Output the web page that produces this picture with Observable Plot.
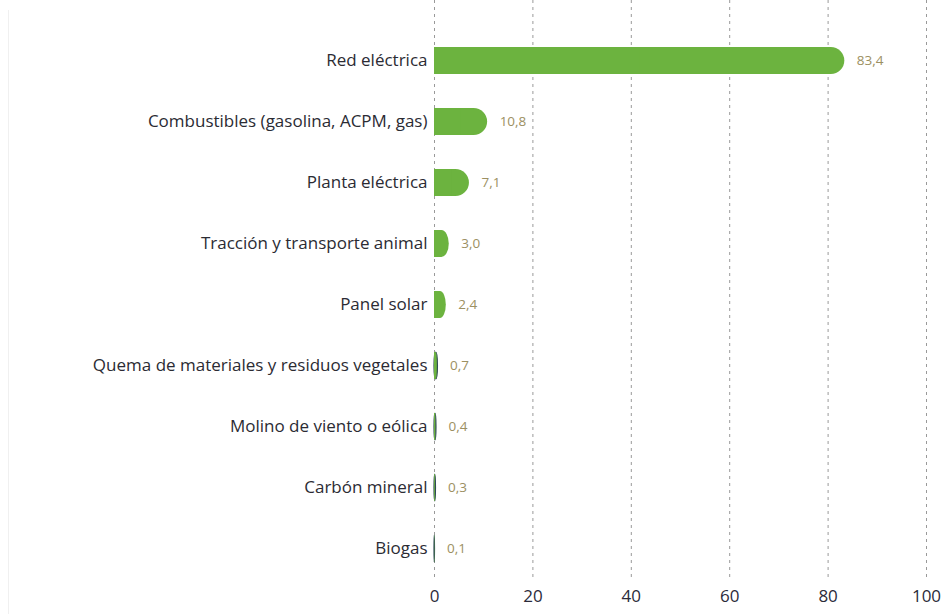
<!DOCTYPE html>
<html>
<head>
<meta charset="utf-8">
<script src="https://cdn.jsdelivr.net/npm/d3@7"></script>
<script src="https://cdn.jsdelivr.net/npm/@observablehq/plot@0.6"></script>
<style>
  html, body { margin: 0; padding: 0; background: #fff; }
  #chart { position: relative; width: 943px; height: 614px; }
  #chart::before { content: ""; position: absolute; left: 8px; top: 10px; bottom: 0; width: 1px; background: #f0f0f0; }
</style>
</head>
<body>
<div id="chart"></div>
<script>
const categories = [
  "Red eléctrica",
  "Combustibles (gasolina, ACPM, gas)",
  "Planta eléctrica",
  "Tracción y transporte animal",
  "Panel solar",
  "Quema de materiales y residuos vegetales",
  "Molino de viento o eólica",
  "Carbón mineral",
  "Biogas"
];
const values = [83.4, 10.8, 7.1, 3.0, 2.4, 0.7, 0.4, 0.3, 0.1];
const xTicks = [0, 20, 40, 60, 80, 100];

const data = categories.map((c, i) => ({ c, v: values[i] }));
const fmt = v => v.toFixed(1).replace(".", ",");
const green = "#6cb33f";

const plot = Plot.plot({
  width: 943,
  height: 614,
  marginLeft: 434,
  marginRight: 17,
  marginTop: 0,
  marginBottom: 34,
  style: { fontFamily: "'Open Sans', sans-serif", background: "transparent" },
  x: { domain: [0, 100], ticks: xTicks, label: null },
  y: { domain: categories, range: [27.25, 580.75], paddingInner: 0.56, paddingOuter: 0.28, label: null },
  marks: [
    Plot.ruleX(xTicks, { stroke: "#999", strokeDasharray: "3,4", strokeWidth: 1 }),
    Plot.barX(data, {
      x: "v", y: "c", fill: green, rx: 13.5,
      stroke: d => d.v < 1 ? "#2f4a55" : "none", strokeWidth: 1.2
    }),
    Plot.barX(data, {
      x1: 0, x2: d => d.v / 2, y: "c", fill: green
    }),
    Plot.text(data, {
      x: "v", y: "c", text: d => fmt(d.v), dx: 12, textAnchor: "start",
      fill: "#9c9062", fontSize: 13.5
    }),
    Plot.axisY({ tickSize: 0, tickPadding: 7, fontSize: 17, fill: "#2b2b33", label: null }),
    Plot.axisX({ ticks: xTicks, tickSize: 0, tickPadding: 9, fontSize: 17, fill: "#2b2b3a", label: null, tickFormat: d => String(d) })
  ]
});
document.getElementById("chart").appendChild(plot);
</script>
</body>
</html>
